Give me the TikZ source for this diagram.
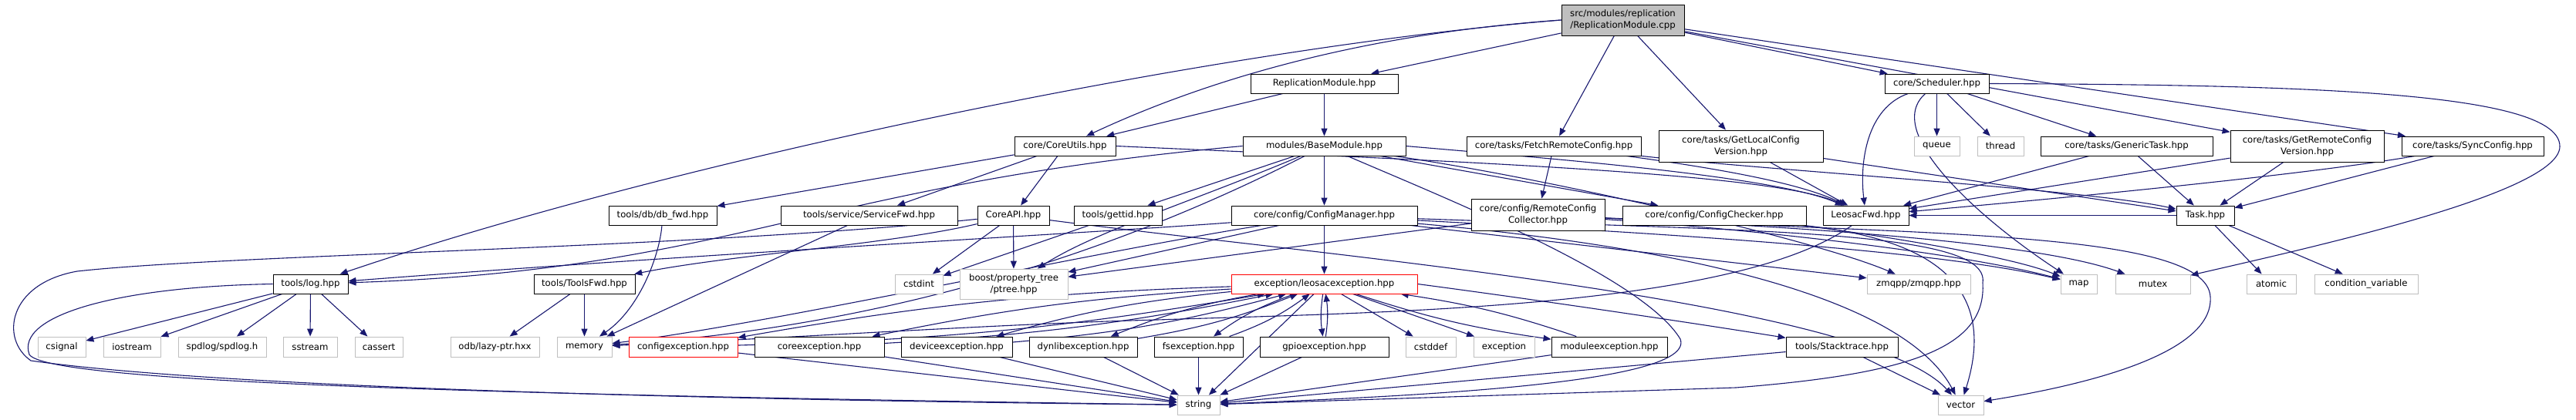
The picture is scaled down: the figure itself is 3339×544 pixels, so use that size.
\documentclass[tikz,border=0pt]{standalone}
\usepackage{fontspec}
\setmainfont{DejaVu Sans}
\usetikzlibrary{arrows.meta}
\definecolor{edgec}{HTML}{191970}
\definecolor{sysgray}{HTML}{BFBFBF}
\definecolor{rootfill}{HTML}{BFBFBF}
\definecolor{redb}{HTML}{FF0000}
\pgfdeclarelayer{bg}
\pgfsetlayers{bg,main}
\tikzset{
  nd/.style={draw=black, line width=0.9pt, fill=white, inner sep=0pt, align=center,
    font=\fontsize{11.7pt}{15pt}\selectfont, minimum height=25pt},
  sys/.style={nd, draw=sysgray},
  redbox/.style={nd, draw=redb},
  rootbox/.style={nd, fill=rootfill},
  e/.style={draw=edgec, line width=1.1pt, -{Triangle[length=10pt,width=8pt]}}
}
\begin{document}
\begin{tikzpicture}[x=1pt,y=-1pt]
\begin{pgfonlayer}{bg}
\fill[white] (0,0) rectangle (3339,544);
\end{pgfonlayer}
\useasboundingbox (0,0) rectangle (3339,544);
% ---------- nodes ----------
\node[rootbox, minimum width=159pt, minimum height=40pt] (R) at (2103.5,26) {src/modules/replication\\/ReplicationModule.cpp};
\node[nd, minimum width=191pt] (RMh) at (1716.5,108.5) {ReplicationModule.hpp};
\node[nd, minimum width=135pt] (Sch) at (2510.5,108.5) {core/Scheduler.hpp};
\node[nd, minimum width=131pt] (CU) at (1380.5,189.5) {core/CoreUtils.hpp};
\node[nd, minimum width=211pt] (BM) at (1716.5,189.5) {modules/BaseModule.hpp};
\node[nd, minimum width=226pt] (FRC) at (2014,189.5) {core/tasks/FetchRemoteConfig.hpp};
\node[nd, minimum width=213pt, minimum height=41pt] (GLCV) at (2256.5,189.5) {core/tasks/GetLocalConfig\\Version.hpp};
\node[sys, minimum width=59pt] (queue) at (2510.5,189.5) {queue};
\node[sys, minimum width=60pt] (thread) at (2593,189.5) {thread};
\node[nd, minimum width=223pt] (GT) at (2756.5,189.5) {core/tasks/GenericTask.hpp};
\node[nd, minimum width=199pt, minimum height=41pt] (GRCV) at (2990.5,189.5) {core/tasks/GetRemoteConfig\\Version.hpp};
\node[nd, minimum width=184pt] (SC) at (3205,189.5) {core/tasks/SyncConfig.hpp};
\node[nd, minimum width=140pt] (dbfwd) at (859,279.5) {tools/db/db\_fwd.hpp};
\node[nd, minimum width=229pt] (SvcFwd) at (1126.5,279.5) {tools/service/ServiceFwd.hpp};
\node[nd, minimum width=93pt] (CoreAPI) at (1313.5,279.5) {CoreAPI.hpp};
\node[nd, minimum width=114pt] (gettid) at (1449,279.5) {tools/gettid.hpp};
\node[nd, minimum width=241pt] (CM) at (1716.5,279.5) {core/config/ConfigManager.hpp};
\node[nd, minimum width=173pt, minimum height=41pt] (RCC) at (1993.5,278.5) {core/config/RemoteConfig\\Collector.hpp};
\node[nd, minimum width=238pt] (CC) at (2222,279.5) {core/config/ConfigChecker.hpp};
\node[nd, minimum width=111pt] (LF) at (2418.5,279.5) {LeosacFwd.hpp};
\node[nd, minimum width=75pt] (Task) at (2858.5,279.5) {Task.hpp};
\node[nd, minimum width=97pt] (log) at (402.5,368.5) {tools/log.hpp};
\node[nd, minimum width=131pt] (ToolsFwd) at (757.5,368.5) {tools/ToolsFwd.hpp};
\node[sys, minimum width=62pt] (cstdint) at (1191,368.5) {cstdint};
\node[sys, minimum width=140pt, minimum height=39pt] (ptree) at (1314,368.5) {boost/property\_tree\\/ptree.hpp};
\node[redbox, minimum width=241pt] (EXC) at (1716.5,368.5) {exception/leosacexception.hpp};
\node[sys, minimum width=134pt] (zmqpp) at (2487,368.5) {zmqpp/zmqpp.hpp};
\node[sys, minimum width=47pt] (map) at (2694.5,368.5) {map};
\node[sys, minimum width=97pt] (mutex) at (2790.5,368.5) {mutex};
\node[sys, minimum width=64pt] (atomic) at (2944,368.5) {atomic};
\node[sys, minimum width=134pt] (condvar) at (3067,368.5) {condition\_variable};
\node[sys, minimum width=62pt, minimum height=26pt] (csignal) at (80,450) {csignal};
\node[sys, minimum width=74pt, minimum height=26pt] (iostream) at (171,450) {iostream};
\node[sys, minimum width=114pt, minimum height=26pt] (spdlog) at (288,450) {spdlog/spdlog.h};
\node[sys, minimum width=70pt, minimum height=26pt] (sstream) at (402,450) {sstream};
\node[sys, minimum width=62pt, minimum height=26pt] (cassert) at (491,450) {cassert};
\node[sys, minimum width=115pt, minimum height=26pt] (odb) at (641.5,450) {odb/lazy-ptr.hxx};
\node[sys, minimum width=71pt, minimum height=26pt] (memory) at (757.5,450) {memory};
\node[redbox, minimum width=141pt, minimum height=26pt] (cfgexc) at (885.5,450) {configexception.hpp};
\node[nd, minimum width=168pt, minimum height=26pt] (coreexc) at (1062,450) {coreexception.hpp};
\node[nd, minimum width=144pt, minimum height=26pt] (devexc) at (1240,450) {deviceexception.hpp};
\node[nd, minimum width=140pt, minimum height=26pt] (dynexc) at (1404,450) {dynlibexception.hpp};
\node[nd, minimum width=115pt, minimum height=26pt] (fsexc) at (1553.5,450) {fsexception.hpp};
\node[nd, minimum width=167pt, minimum height=26pt] (gpioexc) at (1716.5,450) {gpioexception.hpp};
\node[sys, minimum width=65pt, minimum height=26pt] (cstddef) at (1854.5,450) {cstddef};
\node[sys, minimum width=79pt, minimum height=26pt] (exception) at (1949.5,450) {exception};
\node[nd, minimum width=150pt, minimum height=26pt] (modexc) at (2086,450) {moduleexception.hpp};
\node[nd, minimum width=145pt, minimum height=26pt] (stack) at (2387.5,450) {tools/Stacktrace.hpp};
\node[sys, minimum width=55pt] (string) at (1553.5,525.5) {string};
\node[sys, minimum width=59pt] (vector) at (2541.5,525.5) {vector};
% ---------- edges ----------
\begin{pgfonlayer}{bg}
% root
\draw[e] (R) -- (RMh);
\draw[e] (R.west) .. controls (1750,45) and (1550,110) .. (CU);
\draw[e] (R.west) .. controls (1600,60) and (900,200) .. (log);
\draw[e] (R) -- (FRC);
\draw[e] (R) -- (GLCV);
\draw[e] (R) -- (Sch);
\draw[e] (R) -- (GRCV);
\draw[e] (R) -- (SC);
% ReplicationModule.hpp
\draw[e] (RMh) -- (CU);
\draw[e] (RMh) -- (BM);
% CoreUtils
\draw[e] (CU) -- (dbfwd);
\draw[e] (CU) -- (SvcFwd);
\draw[e] (CU) -- (CoreAPI);
\draw[e] (CU.east) .. controls (1900,210) and (2300,225) .. (LF);
% BaseModule
\draw[e] (BM.west) .. controls (1050,240) and (950,350) .. (log);
\draw[e] (BM) -- (gettid);
\draw[e] (BM) -- (CM);
\draw[e] (BM) -- (CC);
\draw[e] (BM.east) .. controls (2000,205) and (2300,228) .. (LF);
\draw[e] (BM) .. controls (1550,260) and (1420,300) .. (ptree);
\draw[e] (BM) .. controls (1500,300) and (1200,420) .. (memory);
\draw[e] (BM) .. controls (2000,230) and (2350,310) .. (zmqpp);
\draw[e] (BM) .. controls (1880,260) and (2130,360) .. (2178,440) .. controls (2200,500) and (1800,515) .. (string);
% FetchRemoteConfig
\draw[e] (FRC) -- (RCC);
\draw[e] (FRC) .. controls (2200,215) and (2330,235) .. (LF);
\draw[e] (FRC) .. controls (2300,222) and (2700,245) .. (Task);
% GetLocalConfigVersion
\draw[e] (GLCV) -- (LF);
\draw[e] (GLCV) -- (Task);
% Scheduler
\draw[e] (Sch) .. controls (2420,140) and (2410,210) .. (LF);
\draw[e] (Sch) .. controls (2440,170) and (2560,280) .. (map);
\draw[e] (Sch) -- (queue);
\draw[e] (Sch) -- (thread);
\draw[e] (Sch) -- (GT);
\draw[e] (Sch.east) .. controls (3000,110) and (3318,120) .. (3318,190) .. controls (3318,250) and (3000,320) .. (mutex);
% tasks
\draw[e] (GT) -- (LF);
\draw[e] (GT) -- (Task);
\draw[e] (GRCV) -- (LF);
\draw[e] (GRCV) -- (Task);
\draw[e] (SC) .. controls (3000,225) and (2700,255) .. (LF);
\draw[e] (SC) -- (Task);
\draw[e] (Task) -- (LF);
\draw[e] (Task) -- (atomic);
\draw[e] (Task) -- (condvar);
% CoreAPI
\draw[e] (CoreAPI) .. controls (1150,318) and (950,330) .. (ToolsFwd);
\draw[e] (CoreAPI) -- (cstdint);
\draw[e] (CoreAPI) -- (ptree);
\draw[e] (CoreAPI) .. controls (1700,330) and (2420,390) .. (vector);
\draw[e] (CoreAPI) .. controls (900,322) and (300,330) .. (100,352) .. controls (10,368) and (0,440) .. (40,468) .. controls (300,505) and (1000,520) .. (string);
% small headers
\draw[e] (gettid) -- (cstdint);
\draw[e] (dbfwd) .. controls (855,330) and (830,400) .. (memory);
\draw[e] (SvcFwd) -- (memory);
\draw[e] (ToolsFwd) -- (memory);
\draw[e] (ToolsFwd) -- (odb);
% log
\draw[e] (log) -- (csignal);
\draw[e] (log) -- (iostream);
\draw[e] (log) -- (spdlog);
\draw[e] (log) -- (sstream);
\draw[e] (log) -- (cassert);
\draw[e] (log.west) .. controls (150,372) and (20,410) .. (38,460) .. controls (60,495) and (600,512) .. (string);
% ConfigManager
\draw[e] (CM) -- (EXC);
\draw[e] (CM) -- (ptree);
\draw[e] (CM) -- (zmqpp);
\draw[e] (CM) .. controls (2100,300) and (2500,322) .. (map);
\draw[e] (CM) .. controls (1400,330) and (1000,420) .. (memory);
\draw[e] (CM) .. controls (1450,300) and (900,330) .. (log);
\draw[e] (CM) .. controls (2200,322) and (2470,390) .. (vector);
\draw[e] (CM) .. controls (2300,300) and (2580,300) .. (2570,367) .. controls (2575,450) and (2480,485) .. (2250,503) -- (string);
% RemoteConfigCollector
\draw[e] (RCC) -- (ptree);
\draw[e] (RCC) .. controls (2300,300) and (2550,330) .. (map);
\draw[e] (RCC) .. controls (2400,298) and (2650,318) .. (mutex);
\draw[e] (RCC) .. controls (2500,305) and (2860,300) .. (2865,385) .. controls (2870,460) and (2700,500) .. (vector);
% ConfigChecker
\draw[e] (CC) .. controls (2400,300) and (2600,330) .. (map);
\draw[e] (CC) .. controls (2450,305) and (2600,340) .. (vector);
% LeosacFwd
\draw[e] (LF) .. controls (2250,400) and (1800,405) .. (1500,415) .. controls (1300,420) and (1000,440) .. (memory);
% leosacexception
\draw[e] (EXC) to[bend right=4] (cfgexc);
\draw[e] (cfgexc) to[bend right=4] (EXC);
\draw[e] (EXC) to[bend right=4] (coreexc);
\draw[e] (coreexc) to[bend right=4] (EXC);
\draw[e] (EXC) to[bend right=5] (devexc);
\draw[e] (devexc) to[bend right=5] (EXC);
\draw[e] (EXC) to[bend right=6] (dynexc);
\draw[e] (dynexc) to[bend right=6] (EXC);
\draw[e] (EXC) to[bend right=8] (fsexc);
\draw[e] (fsexc) to[bend right=8] (EXC);
\draw[e] (EXC) to[bend right=8] (gpioexc);
\draw[e] (gpioexc) to[bend right=8] (EXC);
\draw[e] (EXC) to[bend right=5] (modexc);
\draw[e] (modexc) to[bend right=5] (EXC);
\draw[e] (EXC) -- (cstddef);
\draw[e] (EXC) -- (exception);
\draw[e] (EXC) -- (string);
\draw[e] (EXC.east) .. controls (2000,390) and (2200,420) .. (stack);
% exceptions to string
\draw[e] (cfgexc) -- (string);
\draw[e] (coreexc) -- (string);
\draw[e] (devexc) -- (string);
\draw[e] (dynexc) -- (string);
\draw[e] (fsexc) -- (string);
\draw[e] (gpioexc) -- (string);
\draw[e] (modexc) -- (string);
\draw[e] (stack) -- (string);
\draw[e] (stack) -- (vector);
\end{pgfonlayer}
\end{tikzpicture}
\end{document}
